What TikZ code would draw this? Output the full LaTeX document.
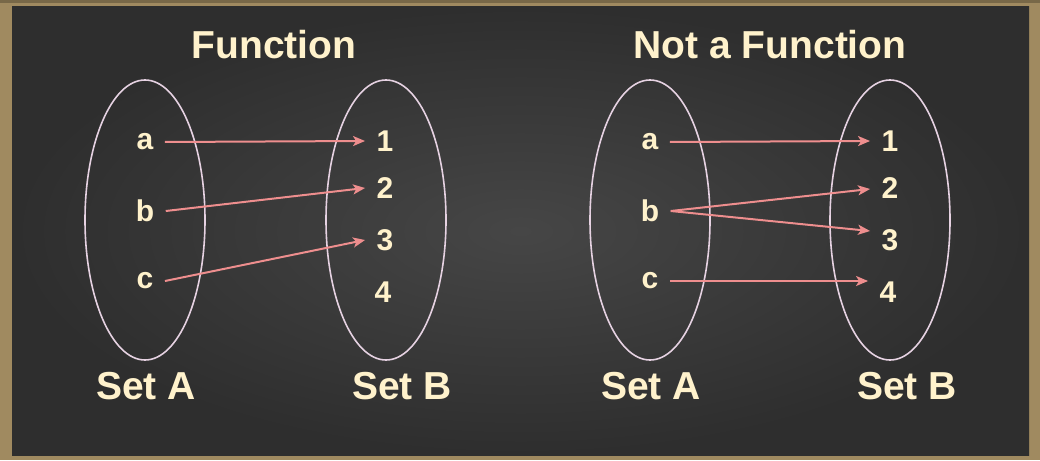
\documentclass[tikz,border=0pt]{standalone}
\usepackage{fontspec}
\setmainfont{Liberation Sans}
\usetikzlibrary{arrows.meta}
\definecolor{frame}{HTML}{A08A60}
\definecolor{bgin}{HTML}{464646}
\definecolor{bgout}{HTML}{2E2E2E}
\definecolor{txt}{HTML}{FFF2CC}
\definecolor{arr}{HTML}{EE8E8E}
\definecolor{ell}{HTML}{E6D2E2}
\begin{document}
\begin{tikzpicture}[x=1pt,y=-1pt,
  title/.style={text=txt,font=\bfseries\fontsize{39}{41}\selectfont,inner sep=0pt},
  setlbl/.style={text=txt,font=\bfseries\fontsize{39}{41}\selectfont,inner sep=0pt},
  elem/.style={text=txt,font=\bfseries\fontsize{30}{31}\selectfont,inner xsep=11.6pt,inner ysep=0pt,outer sep=0pt},
  setell/.style={draw=ell,line width=1.6pt},
  mapto/.style={draw=arr,line width=2pt,-{Stealth[length=12pt,width=10pt,inset=3pt]}}]
\useasboundingbox (0,0) rectangle (1040,460);
\fill[frame] (0,0) rectangle (1040,460);
\fill[frame!75!black] (0,0) rectangle (1040,3);
\shade[inner color=bgin,outer color=bgout] (12,7) rectangle (1029,455);
% left diagram
\node[title] (t1) at (274,45) {Function};
\draw[setell] (145,220) ellipse [x radius=60,y radius=140];
\draw[setell] (386,220) ellipse [x radius=60,y radius=140];
\node[elem] (la) at (145,142) {a};
\node[elem] (lb) at (145,211) {b};
\node[elem] (lc) at (145,281) {c};
\node[elem] (l1) at (385,141) {1};
\node[elem] (l2) at (385,188) {2};
\node[elem] (l3) at (385,240) {3};
\node[elem] (l4) at (383,292) {4};
\node[setlbl] (lsa) at (146,386) {Set A};
\node[setlbl] (lsb) at (402,386) {Set B};
\draw[mapto] (la.east) -- (l1.west);
\draw[mapto] (lb.east) -- (l2.west);
\draw[mapto] (lc.east) -- (l3.west);
% right diagram
\node[title] (t2) at (770,45) {Not a Function};
\draw[setell] (650,220) ellipse [x radius=60,y radius=140];
\draw[setell] (890,220) ellipse [x radius=60,y radius=140];
\node[elem] (ra) at (650,142) {a};
\node[elem] (rb) at (650,211) {b};
\node[elem] (rc) at (650,281) {c};
\node[elem] (r1) at (890,141) {1};
\node[elem] (r2) at (890,188) {2};
\node[elem] (r3) at (890,240) {3};
\node[elem] (r4) at (888,292) {4};
\node[setlbl] (rsa) at (651,386) {Set A};
\node[setlbl] (rsb) at (907,386) {Set B};
\draw[mapto] (ra.east) -- (r1.west);
\draw[mapto] (rb.east) -- ([yshift=-1pt]r2.west);
\draw[mapto] (rb.east) -- ([yshift=9pt]r3.west);
\draw[mapto] (rc.east) -- (rc.east -| r4.west);
\end{tikzpicture}
\end{document}
